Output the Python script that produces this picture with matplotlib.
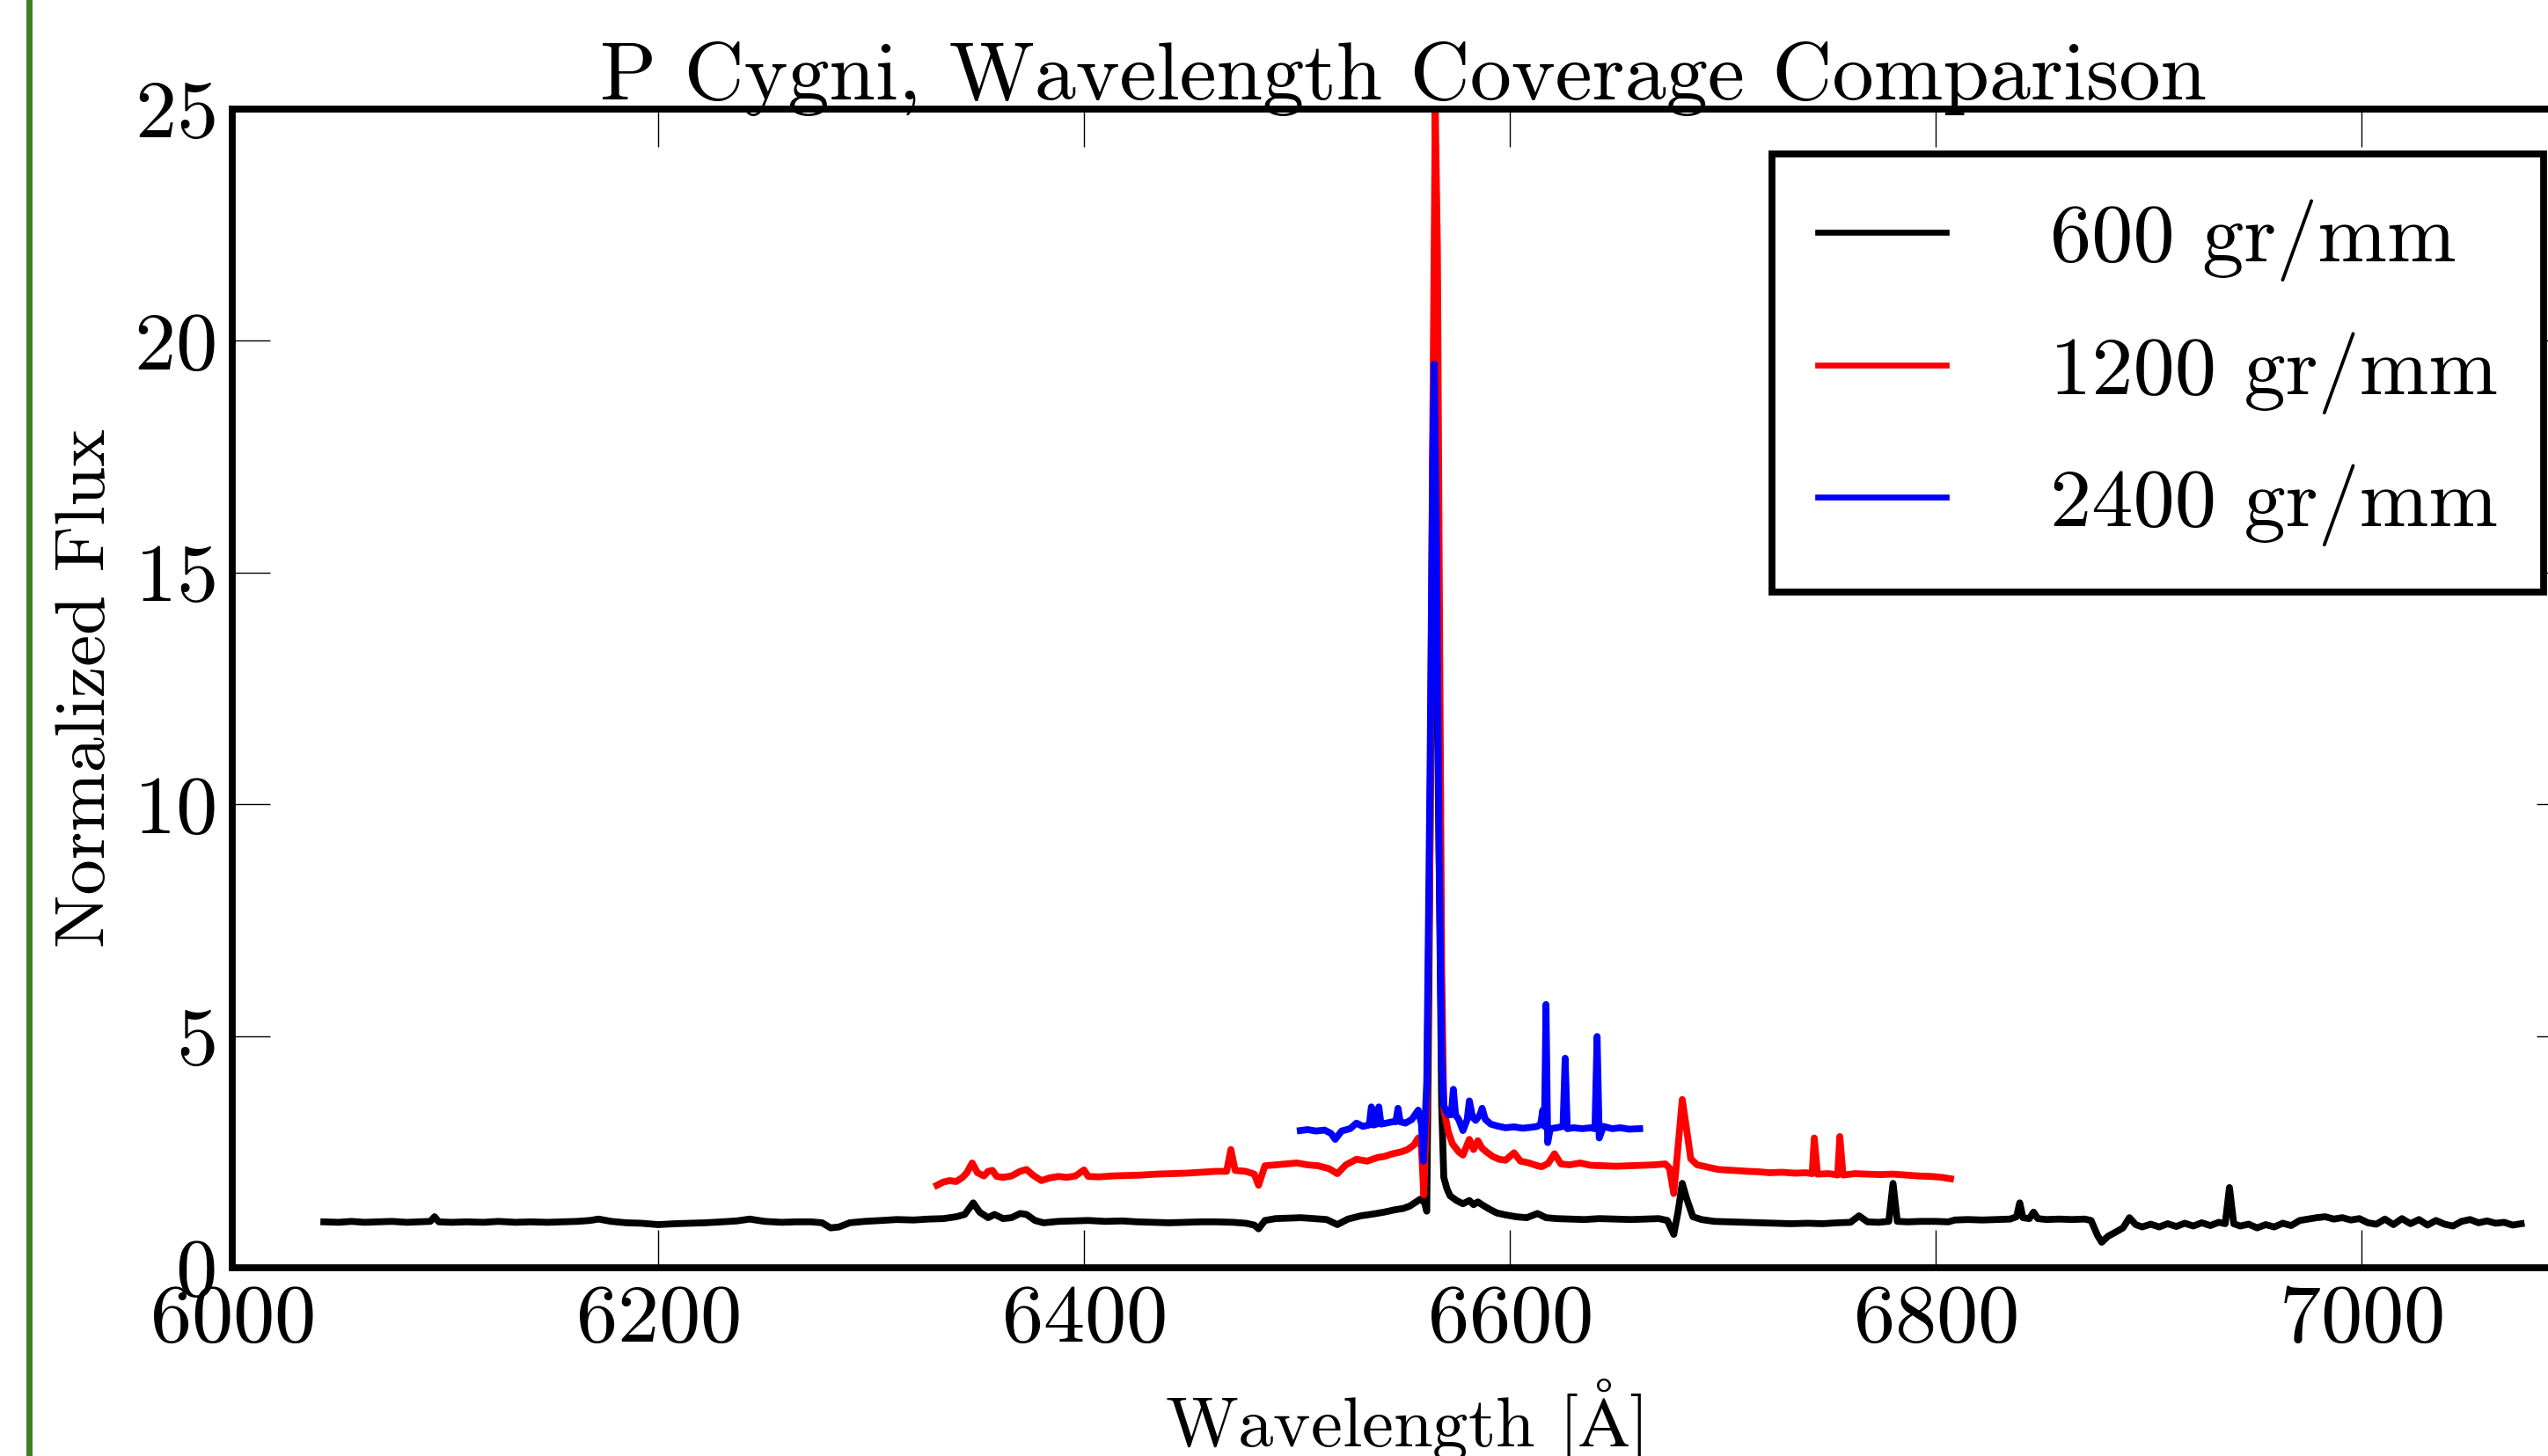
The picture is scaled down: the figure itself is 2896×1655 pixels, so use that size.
import numpy as np
import matplotlib
matplotlib.use('Agg')
import matplotlib.pyplot as plt
from matplotlib.lines import Line2D

plt.rcParams['font.family'] = 'cmr10'
plt.rcParams['mathtext.fontset'] = 'cm'
plt.rcParams['axes.formatter.use_mathtext'] = True

# 600 gr/mm spectrum (wavelength [A], normalized flux)
black = [
    (6043, 0.99), (6050, 0.98), (6056, 1.00), (6062, 0.98), (6068, 0.99), (6075, 1.00),
    (6082, 0.98), (6088, 0.99), (6093, 1.00), (6095, 1.10), (6097, 0.99), (6103, 0.98),
    (6110, 0.99), (6118, 0.98), (6125, 1.00), (6133, 0.98), (6140, 0.99), (6148, 0.98),
    (6155, 0.99), (6162, 1.00), (6168, 1.02), (6172, 1.05), (6178, 1.00), (6185, 0.97),
    (6192, 0.96), (6200, 0.93), (6208, 0.95), (6215, 0.96), (6222, 0.97), (6230, 0.99),
    (6237, 1.01), (6243, 1.05), (6250, 1.00), (6258, 0.98), (6265, 0.99), (6272, 0.99),
    (6277, 0.97), (6281, 0.86), (6285, 0.88), (6290, 0.97), (6297, 1.00), (6305, 1.02),
    (6312, 1.04), (6320, 1.03), (6327, 1.05), (6334, 1.06), (6340, 1.10), (6344, 1.15),
    (6348, 1.40), (6351, 1.20), (6355, 1.08), (6358, 1.15), (6362, 1.06), (6366, 1.08),
    (6370, 1.17), (6373, 1.15), (6377, 1.02), (6381, 0.97), (6388, 1.00), (6395, 1.01),
    (6402, 1.02), (6410, 1.00), (6418, 1.01), (6425, 0.99), (6433, 0.98), (6440, 0.97),
    (6448, 0.98), (6455, 0.99), (6462, 0.99), (6470, 0.98), (6476, 0.96), (6480, 0.92),
    (6482, 0.84), (6485, 1.02), (6490, 1.06), (6496, 1.07), (6502, 1.08), (6508, 1.06),
    (6514, 1.04), (6519, 0.93), (6524, 1.05), (6530, 1.12), (6536, 1.16), (6541, 1.20),
    (6546, 1.25), (6550, 1.28), (6553, 1.33), (6556, 1.42), (6558, 1.48), (6560, 1.40),
    (6561, 1.22), (6562, 6.0), (6563, 12.0), (6564.5, 14.0), (6566, 12.0), (6567, 8.0),
    (6568, 3.5), (6569, 1.95), (6570.5, 1.70), (6572, 1.55), (6575, 1.45), (6578, 1.38),
    (6581, 1.45), (6583, 1.36), (6585, 1.42), (6588, 1.33), (6591, 1.25), (6594, 1.18),
    (6598, 1.14), (6603, 1.10), (6608, 1.08), (6613, 1.17), (6617, 1.08), (6622, 1.06),
    (6628, 1.05), (6635, 1.04), (6642, 1.06), (6650, 1.05), (6657, 1.04), (6664, 1.05),
    (6670, 1.06), (6674, 1.02), (6677, 0.72), (6679, 1.20), (6681, 1.82), (6683, 1.50),
    (6686, 1.10), (6690, 1.04), (6696, 1.00), (6703, 0.99), (6710, 0.98), (6717, 0.97),
    (6725, 0.96), (6732, 0.95), (6740, 0.96), (6747, 0.95), (6754, 0.97), (6760, 0.98),
    (6764, 1.12), (6768, 0.99), (6773, 0.98), (6778, 1.00), (6780, 1.82), (6782, 1.00),
    (6787, 0.99), (6793, 1.00), (6800, 1.00), (6806, 0.99), (6809, 1.03), (6815, 1.04),
    (6822, 1.03), (6829, 1.04), (6835, 1.05), (6838, 1.10), (6839.5, 1.40), (6841, 1.08),
    (6844, 1.06), (6846, 1.20), (6848, 1.06), (6852, 1.04), (6858, 1.05), (6864, 1.04),
    (6870, 1.05), (6873, 1.02), (6876, 0.70), (6878, 0.55), (6881, 0.68), (6885, 0.78),
    (6888, 0.86), (6891, 1.08), (6894, 0.93), (6897, 0.88), (6901, 0.94), (6905, 0.88),
    (6909, 0.95), (6913, 0.89), (6917, 0.96), (6921, 0.90), (6925, 0.97), (6929, 0.91),
    (6933, 0.98), (6936, 0.95), (6938, 1.73), (6940, 0.95), (6943, 0.90), (6947, 0.94),
    (6951, 0.86), (6955, 0.93), (6959, 0.88), (6963, 0.96), (6967, 0.91), (6971, 1.02),
    (6975, 1.05), (6979, 1.08), (6983, 1.10), (6987, 1.05), (6991, 1.08), (6995, 1.03),
    (6999, 1.06), (7003, 0.97), (7007, 0.94), (7011, 1.05), (7015, 0.93), (7019, 1.06),
    (7023, 0.95), (7027, 1.04), (7031, 0.92), (7035, 1.02), (7039, 0.94), (7043, 0.90),
    (7047, 1.00), (7051, 1.04), (7055, 0.97), (7059, 1.01), (7063, 0.96), (7067, 0.98),
    (7071, 0.92), (7075, 0.95),
]

# 1200 gr/mm spectrum
red = [
    (6331, 1.78), (6334, 1.85), (6337, 1.88), (6340, 1.86), (6343, 1.95), (6345, 2.05),
    (6347.5, 2.26), (6350, 2.05), (6353, 1.98), (6355, 2.08), (6357, 2.10), (6359, 1.97),
    (6362, 1.95), (6366, 1.98), (6370, 2.08), (6373, 2.12), (6376, 2.00), (6380, 1.88),
    (6384, 1.94), (6388, 1.97), (6392, 1.95), (6396, 1.98), (6400, 2.11), (6402, 1.97),
    (6407, 1.96), (6413, 1.98), (6420, 1.99), (6427, 2.00), (6434, 2.02), (6441, 2.03),
    (6448, 2.04), (6455, 2.06), (6462, 2.08), (6467, 2.08), (6469, 2.55), (6471, 2.10),
    (6476, 2.08), (6480, 2.02), (6482, 1.78), (6485, 2.20), (6490, 2.22), (6495, 2.24),
    (6500, 2.26), (6505, 2.22), (6510, 2.20), (6515, 2.14), (6519, 2.03), (6523, 2.22),
    (6528, 2.34), (6533, 2.30), (6538, 2.38), (6541, 2.40), (6545, 2.46), (6549, 2.50),
    (6552, 2.55), (6555, 2.65), (6557, 2.80), (6558.5, 2.60), (6559.6, 1.57), (6561, 3.5),
    (6562.5, 9.0), (6563.8, 18.0), (6565, 25.0), (6566, 22.0), (6567, 14.0), (6568, 6.5),
    (6569, 3.44), (6571, 2.95), (6573, 2.68), (6576, 2.50), (6578, 2.43), (6581, 2.77),
    (6583, 2.55), (6585, 2.74), (6587, 2.58), (6589, 2.50), (6592, 2.40), (6595, 2.34),
    (6598, 2.32), (6602, 2.48), (6605, 2.30), (6609, 2.26), (6613, 2.20), (6615, 2.18),
    (6618, 2.25), (6621, 2.46), (6624, 2.24), (6628, 2.22), (6633, 2.26), (6638, 2.21),
    (6644, 2.20), (6650, 2.19), (6656, 2.20), (6662, 2.21), (6668, 2.22), (6673, 2.24),
    (6675, 2.15), (6677, 1.60), (6679, 2.60), (6681, 3.63), (6683, 3.00), (6685, 2.35),
    (6688, 2.22), (6692, 2.18), (6698, 2.12), (6705, 2.10), (6712, 2.08), (6717, 2.07),
    (6722, 2.05), (6728, 2.06), (6734, 2.04), (6739, 2.05), (6742, 2.03), (6743, 2.80),
    (6744.5, 2.02), (6750, 2.03), (6754, 2.00), (6755, 2.83), (6756.5, 2.00), (6762, 2.03),
    (6768, 2.02), (6774, 2.01), (6780, 2.02), (6786, 2.00), (6792, 1.98), (6798, 1.97),
    (6803, 1.95), (6807, 1.92),
]

# 2400 gr/mm spectrum
blue = [
    (6501.6, 2.96), (6505, 2.98), (6509, 2.95), (6513, 2.97), (6516, 2.90), (6518, 2.77),
    (6521, 2.95), (6525, 3.00), (6528, 3.12), (6531, 3.05), (6534, 3.08), (6535, 3.47),
    (6536, 3.08), (6537.5, 3.10), (6538.5, 3.47), (6539.5, 3.10), (6542, 3.12), (6545, 3.15),
    (6546.5, 3.15), (6547.5, 3.44), (6548.5, 3.15), (6551, 3.12), (6554, 3.20), (6557, 3.40),
    (6558.5, 3.10), (6559.4, 2.30), (6561, 4.0), (6562.5, 10.5), (6563.8, 17.5), (6564.5, 19.5),
    (6565.5, 16.0), (6566.8, 9.0), (6568, 4.6), (6569, 3.50), (6571, 3.30), (6572.5, 3.30),
    (6573.5, 3.85), (6574.5, 3.30), (6576, 3.20), (6578, 2.96), (6580, 3.20), (6581, 3.60),
    (6582.5, 3.25), (6584, 3.18), (6586, 3.30), (6587, 3.44), (6588.5, 3.20), (6591, 3.10),
    (6594, 3.06), (6598, 3.02), (6602, 3.04), (6606, 3.01), (6610, 3.03), (6613, 3.05),
    (6614.5, 3.10), (6615.5, 3.40), (6616.3, 3.05), (6617, 5.68), (6617.8, 2.70), (6619, 3.00),
    (6622, 3.02), (6625, 3.05), (6626, 4.52), (6627, 3.00), (6630, 3.02), (6634, 3.00),
    (6638, 3.02), (6640, 3.00), (6641, 4.99), (6642, 2.80), (6644, 3.05), (6648, 3.00),
    (6652, 3.02), (6656, 2.99), (6661, 3.00),
]

labels = ['600 gr/mm', '1200 gr/mm', '2400 gr/mm']
colors = ['k', 'r', 'b']
xticks = [6000, 6200, 6400, 6600, 6800, 7000]
yticks = [0, 5, 10, 15, 20, 25]

W, H = 2896, 1655
FS = 34
fig = plt.figure(figsize=(W / 200, H / 200), dpi=200)
ax = fig.add_axes([264 / W, 1 - 1441 / H, (2926 - 264) / W, (1441 - 124) / H])

for spec, lab, col in zip([black, red, blue], labels, colors):
    wl, fl = np.array(spec).T
    ax.plot(wl, fl, color=col, lw=2.8, label=lab)

ax.set_xlim(6000, 7100)
ax.set_ylim(0, 25)
ax.set_xticks(xticks)
ax.set_yticks(yticks)
ax.tick_params(direction='in', length=15.5, width=0.5, top=True, right=True,
               labelsize=FS, pad=7)
for sp in ax.spines.values():
    sp.set_linewidth(2.8)

ax.set_title('P Cygni, Wavelength Coverage Comparison', fontsize=FS, pad=4)
ax.set_xlabel(r'Wavelength [$\mathrm{\AA}$]', fontsize=29, labelpad=8)
ax.set_ylabel('Normalized Flux', fontsize=29, labelpad=6)

leg = ax.legend(loc='upper right', bbox_to_anchor=(2891 / W, 1 - 175 / H),
                bbox_transform=fig.transFigure, borderaxespad=0, fancybox=False,
                edgecolor='k', framealpha=1, fontsize=FS, handlelength=1.55,
                handletextpad=1.25, labelspacing=0.6, borderpad=0.55)
leg.get_frame().set_linewidth(2.8)
for h in leg.get_lines():
    h.set_linewidth(2.4)

# green slide border at the left
fig.add_artist(Line2D([33 / W, 33 / W], [0, 1], transform=fig.transFigure,
                      color='#3f7d25', lw=2.5))

fig.savefig('out.png', dpi=200)
